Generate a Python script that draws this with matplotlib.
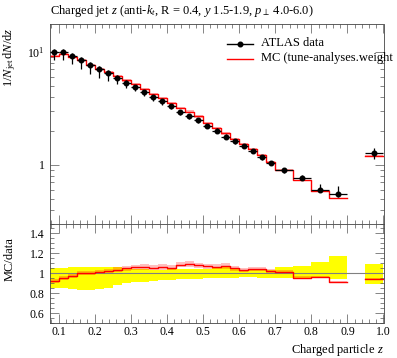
import numpy as np
import matplotlib
matplotlib.use('Agg')
import matplotlib.pyplot as plt
from matplotlib.ticker import MultipleLocator, FixedLocator, NullFormatter

plt.rcParams['font.family'] = ['Liberation Serif', 'DejaVu Serif']
plt.rcParams['mathtext.fontset'] = 'custom'
plt.rcParams['mathtext.rm'] = 'Liberation Serif'
plt.rcParams['mathtext.it'] = 'Liberation Serif:italic'

# bin edges (a gap between 0.90 and 0.95)
bin_lo = [0.075, 0.100, 0.125, 0.150, 0.175, 0.200, 0.225, 0.250, 0.275, 0.300,
          0.325, 0.350, 0.375, 0.400, 0.425, 0.450, 0.475, 0.500, 0.525, 0.550,
          0.575, 0.600, 0.625, 0.650, 0.675, 0.700, 0.750, 0.800, 0.850, 0.950]
bin_hi = [0.100, 0.125, 0.150, 0.175, 0.200, 0.225, 0.250, 0.275, 0.300, 0.325,
          0.350, 0.375, 0.400, 0.425, 0.450, 0.475, 0.500, 0.525, 0.550, 0.575,
          0.600, 0.625, 0.650, 0.675, 0.700, 0.750, 0.800, 0.850, 0.900, 1.000]

# ATLAS data
data = [10.0, 10.0, 9.22, 8.44, 7.62, 7.00, 6.44, 5.89, 5.31, 4.89,
        4.40, 3.98, 3.65, 3.31, 2.94, 2.70, 2.47, 2.20, 1.99, 1.76,
        1.61, 1.46, 1.31, 1.16, 1.04, 0.89, 0.76, 0.60, 0.548, 1.27]
# relative uncertainties (up / down)
data_rel_up = [0.051, 0.051, 0.062, 0.062, 0.062, 0.062, 0.060, 0.060, 0.050, 0.045,
               0.040, 0.035, 0.035, 0.040, 0.045, 0.045, 0.045, 0.045, 0.050, 0.060,
               0.045, 0.030, 0.030, 0.040, 0.030, 0.058, 0.071, 0.112, 0.169, 0.095]
data_rel_dn = [0.152, 0.152, 0.160, 0.170, 0.170, 0.160, 0.150, 0.120, 0.100, 0.090,
               0.087, 0.080, 0.070, 0.065, 0.060, 0.060, 0.055, 0.050, 0.048, 0.050,
               0.045, 0.034, 0.037, 0.045, 0.048, 0.048, 0.045, 0.034, 0.061, 0.108]

# MC prediction
mc = [9.19, 9.56, 8.97, 8.44, 7.67, 7.10, 6.59, 6.11, 5.58, 5.19,
      4.68, 4.21, 3.88, 3.50, 3.19, 2.95, 2.67, 2.35, 2.12, 1.89,
      1.69, 1.51, 1.37, 1.21, 1.065, 0.905, 0.727, 0.58, 0.502, 1.20]
mc_rel_err = [0.02, 0.02, 0.02, 0.02, 0.02, 0.02, 0.02, 0.025, 0.025, 0.025,
              0.025, 0.025, 0.025, 0.025, 0.025, 0.025, 0.025, 0.025, 0.025, 0.025,
              0.025, 0.02, 0.02, 0.02, 0.02, 0.015, 0.015, 0.01, 0.005, 0.005]

bin_lo = np.array(bin_lo)
bin_hi = np.array(bin_hi)
data = np.array(data)
mc = np.array(mc)
data_rel_up = np.array(data_rel_up)
data_rel_dn = np.array(data_rel_dn)
mc_rel_err = np.array(mc_rel_err)
centers = 0.5 * (bin_lo + bin_hi)


def step_xy(vals):
    xs, ys = [], []
    for i in range(len(vals)):
        xs += [bin_lo[i], bin_hi[i]]
        ys += [vals[i], vals[i]]
        if i + 1 < len(vals) and abs(bin_lo[i + 1] - bin_hi[i]) > 1e-9:
            xs.append(np.nan)
            ys.append(np.nan)
    return np.array(xs), np.array(ys)


W, H = 397, 358
fig = plt.figure(figsize=(W / 100, H / 100), dpi=100)
L, R = 49.5, 383.5
ax = fig.add_axes([L / W, (H - 223.5) / H, (R - L) / W, (223.5 - 24) / H])
rax = fig.add_axes([L / W, (H - 323) / H, (R - L) / W, (323 - 223.5) / H])

# main panel
mx, my = step_xy(mc)
_, my_lo = step_xy(mc * (1 - mc_rel_err))
_, my_hi = step_xy(mc * (1 + mc_rel_err))
ax.fill_between(mx, my_lo, my_hi, color='#ff0000', alpha=0.3, lw=0)
ax.plot(mx, my, color='red', lw=1.0)
ax.errorbar(centers, data,
            xerr=[centers - bin_lo, bin_hi - centers],
            yerr=[data * data_rel_dn, data * data_rel_up],
            fmt='o', color='black', ms=3.3, elinewidth=0.9, capsize=0, zorder=5)
ax.set_yscale('log')
ax.set_xlim(0.075, 1.0)
ax.set_ylim(0.301, 17.6)
ax.set_yticks([1, 10])
ax.set_yticklabels(['1', '$10^1$'])
ax.yaxis.set_minor_formatter(NullFormatter())
ax.xaxis.set_major_locator(MultipleLocator(0.1))
ax.xaxis.set_minor_locator(MultipleLocator(0.02))
ax.tick_params(labelbottom=False)

# ratio panel
rxs, r_lo = step_xy(1 - data_rel_dn)
_, r_hi = step_xy(1 + data_rel_up)
rax.fill_between(rxs, r_lo, r_hi, color='#ffff00', lw=0)
rax.axhline(1.0, color='#808080', lw=0.8)
_, rr = step_xy(mc / data)
_, rr_lo = step_xy(mc / data * (1 - mc_rel_err))
_, rr_hi = step_xy(mc / data * (1 + mc_rel_err))
rax.fill_between(rxs, rr_lo, rr_hi, color='#ff0000', alpha=0.25, lw=0)
rax.plot(rxs, rr, color='red', lw=1.0)
rax.set_xlim(0.075, 1.0)
rax.set_ylim(0.5, 1.5)
rax.yaxis.set_major_locator(FixedLocator([0.6, 0.8, 1.0, 1.2, 1.4]))
rax.set_yticklabels(['0.6', '0.8', '1', '1.2', '1.4'])
rax.yaxis.set_minor_locator(MultipleLocator(0.05))
rax.xaxis.set_major_locator(MultipleLocator(0.1))
rax.xaxis.set_minor_locator(MultipleLocator(0.02))
rax.set_xticks([0.1, 0.2, 0.3, 0.4, 0.5, 0.6, 0.7, 0.8, 0.9, 1.0])
rax.set_xticklabels(['0.1', '0.2', '0.3', '0.4', '0.5', '0.6', '0.7', '0.8', '0.9', '1.0'])

for a in (ax, rax):
    a.tick_params(which='both', direction='in', top=True, right=True,
                  labelsize=8.5, color='#555555')
    a.tick_params(which='major', length=6.5, width=0.5)
    a.tick_params(which='minor', length=3.2, width=0.5)
    for s in a.spines.values():
        s.set_linewidth(0.6)
        s.set_color('#444444')
rax.tick_params(axis='x', pad=2.5)

# title and labels
fig.text(L / W, 1 - 11 / H, r'Charged jet $z$ (anti-$k_t$, R = 0.4, $y$ 1.5-1.9, $p_\perp$ 4.0-6.0)',
         ha='left', va='center', fontsize=9)
fig.text(10 / W, 1 - 27 / H, r'$1/N_\mathrm{jet}\,\mathrm{d}N/\mathrm{d}z$',
         rotation=90, ha='center', va='top', fontsize=9)
fig.text(10 / W, 1 - 237 / H, 'MC/data', rotation=90, ha='center', va='top', fontsize=9)
fig.text(R / W, 1 - 350 / H, 'Charged particle $z$', ha='right', va='center', fontsize=9)

# legend
lx0, lx1, ltx = 226.7, 252.7, 260.7
for yy, col, mk, lab in [(43.5, 'black', 'o', 'ATLAS data'),
                         (58.5, 'red', None, 'MC (tune-analyses.weight')]:
    fig.lines.append(plt.Line2D([lx0 / W, lx1 / W], [1 - yy / H, 1 - yy / H],
                                color=col, lw=1.0, transform=fig.transFigure))
    if mk:
        fig.lines.append(plt.Line2D([(lx0 + lx1) / 2 / W], [1 - yy / H], marker=mk,
                                    ms=3.3, color=col, transform=fig.transFigure))
    fig.text(ltx / W, 1 - yy / H, lab, ha='left', va='center', fontsize=9)

fig.savefig('out.png', dpi=100)
